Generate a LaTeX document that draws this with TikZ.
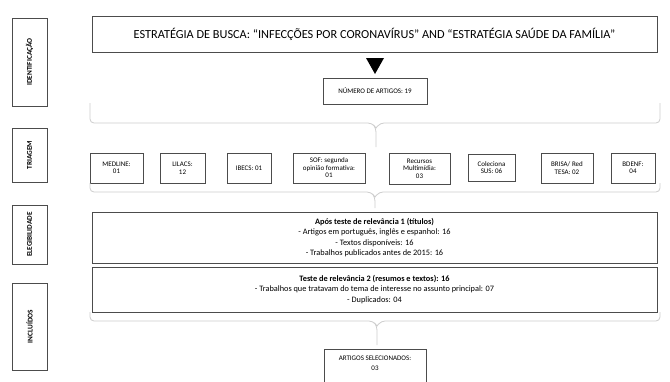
\documentclass[tikz,border=0pt]{standalone}
\usepackage{fontspec}
\setmainfont{Carlito}
\begin{document}
\begin{tikzpicture}[x=1pt,y=-1pt,
  box/.style={draw=black!70,line width=0.7pt,rectangle,align=center,inner sep=1pt,fill=white},
  sidebox/.style={box,minimum width=35pt,font=\fontsize{7.3}{8}\selectfont\bfseries},
  srcbox/.style={box,font=\fontsize{7}{7.5}\selectfont,minimum height=30pt},
  brace/.style={draw=black!20,line width=0.8pt}]
\useasboundingbox (0,0) rectangle (670,381);
\clip (0,0) rectangle (670,381);
% side labels
\node[sidebox,minimum height=88pt] (ident) at (29.5,62) {\rotatebox{90}{IDENTIFICAÇÃO}};
\node[sidebox,minimum height=54pt] (triag) at (29.5,155) {\rotatebox{90}{TRIAGEM}};
\node[sidebox,minimum height=59pt] (eleg) at (29.5,234.5) {\rotatebox{90}{ELEGIBILIDADE}};
\node[sidebox,minimum height=87pt] (incl) at (29.5,326.5) {\rotatebox{90}{INCLUÍDOS}};
% title
\node[box,minimum width=565pt,minimum height=36pt,font=\fontsize{12.3}{14}\selectfont] (title) at (374.5,34)
  {ESTRATÉGIA DE BUSCA: “INFECÇÕES POR CORONAVÍRUS” AND “ESTRATÉGIA SAÚDE DA FAMÍLIA”};
\coordinate (t1) at (366,58);
\coordinate (t2) at (384,58);
\coordinate (t3) at (375,74);
\fill[black] (t1) -- (t2) -- (t3) -- cycle;
\node[box,minimum width=104pt,minimum height=26pt,font=\fontsize{7}{8}\selectfont] (num) at (375,91) {NÚMERO DE ARTIGOS: 19};
% brace 1
\coordinate (b1l) at (90,103);
\coordinate (b1r) at (660,103);
\coordinate (b1t) at (376,147);
\draw[brace,rounded corners=4pt] (b1l) -- (90,123) -- (372,123) -- (376,128) -- (b1t);
\draw[brace,rounded corners=4pt] (b1r) -- (660,123) -- (380,123) -- (376,128);
% triage sources
\node[srcbox,minimum width=53pt] (medline) at (116.5,168) {MEDLINE:\\01};
\node[srcbox,minimum width=45pt] (lilacs) at (182.5,168) {LILACS:\\12};
\node[srcbox,minimum width=44pt] (ibecs) at (249,168) {IBECS: 01};
\node[srcbox,minimum width=72pt] (sof) at (329,168) {SOF: segunda\\opinião formativa:\\01};
\node[srcbox,minimum width=61pt,minimum height=31pt] (recursos) at (419.5,168.5) {Recursos\\Multimídia:\\03};
\node[srcbox,minimum width=47pt,minimum height=27pt] (coleciona) at (491.5,167.5) {Coleciona\\SUS: 06};
\node[srcbox,minimum width=52pt] (brisa) at (567,168) {BRISA/ Red\\TESA: 02};
\node[srcbox,minimum width=44pt] (bdenf) at (633,168) {BDENF:\\04};
% brace 2
\coordinate (b2l) at (90,183);
\coordinate (b2r) at (660,183);
\coordinate (b2t) at (375,208);
\draw[brace,rounded corners=4pt] (b2l) -- (90,192) -- (371,192) -- (375,197) -- (b2t);
\draw[brace,rounded corners=4pt] (b2r) -- (660,192) -- (379,192) -- (375,197);
% eligibility
\node[box,minimum width=565pt,minimum height=51pt,font=\fontsize{8.3}{10.5}\selectfont] (rel1) at (374.5,237.5)
  {\textbf{Após teste de relevância 1 (títulos)}\\- Artigos em português, inglês e espanhol: 16\\- Textos disponíveis: 16\\- Trabalhos publicados antes de 2015: 16};
\node[box,minimum width=565pt,minimum height=45pt,font=\fontsize{8.3}{10.5}\selectfont] (rel2) at (374.5,289.5)
  {\textbf{Teste de relevância 2 (resumos e textos): 16}\\- Trabalhos que tratavam do tema de interesse no assunto principal: 07\\- Duplicados: 04};
% brace 3
\coordinate (b3l) at (90,312);
\coordinate (b3r) at (660,312);
\coordinate (b3t) at (377,345);
\draw[brace,rounded corners=4pt] (b3l) -- (90,321) -- (373,321) -- (377,326) -- (b3t);
\draw[brace,rounded corners=4pt] (b3r) -- (660,321) -- (381,321) -- (377,326);
% result
\node[box,minimum width=102pt,minimum height=46pt,anchor=north,font=\fontsize{7}{10}\selectfont,text depth=18pt] (sel) at (375,349)
  {ARTIGOS SELECIONADOS:\\03};
\end{tikzpicture}
\end{document}
